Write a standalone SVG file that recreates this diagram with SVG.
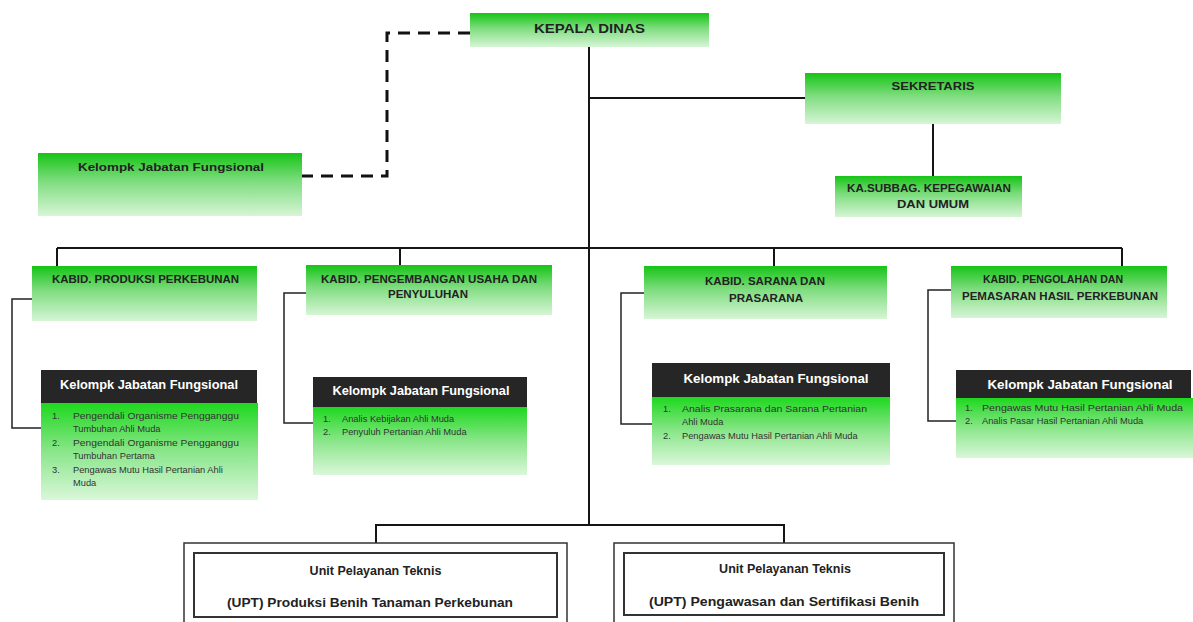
<svg xmlns="http://www.w3.org/2000/svg" width="1193" height="622" viewBox="0 0 1193 622">
<defs>
<linearGradient id="g" x1="0" y1="0" x2="0" y2="1">
<stop offset="0" stop-color="#16c416"/>
<stop offset="0.45" stop-color="#7fdd7f"/>
<stop offset="1" stop-color="#d6f5d6"/>
</linearGradient>
<linearGradient id="gb" x1="0" y1="0" x2="0" y2="1">
<stop offset="0" stop-color="#1ed81e"/>
<stop offset="0.5" stop-color="#8ae68a"/>
<stop offset="1" stop-color="#daf7da"/>
</linearGradient>
<style>
.box{fill:url(#g);}
.body{fill:url(#gb);}
.hdr{fill:#262626;}
.t{font-family:"Liberation Sans",Arial,sans-serif;font-weight:bold;fill:#222;text-anchor:middle;}
.h{font-family:"Liberation Sans",Arial,sans-serif;font-weight:bold;fill:#fff;text-anchor:middle;font-size:12.5px;}
.i{font-family:"Liberation Sans",Arial,sans-serif;fill:#333;font-size:9.3px;}
.ln{fill:none;stroke:#151515;stroke-width:2;}
.br{fill:none;stroke:#222;stroke-width:1.5;}
.ds{fill:none;stroke:#111;stroke-width:3;stroke-dasharray:12 8;}
.up{fill:#fff;stroke:#333;stroke-width:1.5;}
.upi{fill:#fff;stroke:#333;stroke-width:2;}
.u{font-family:"Liberation Sans",Arial,sans-serif;font-weight:bold;fill:#222;text-anchor:middle;font-size:12.5px;}
</style>
</defs>
<rect width="1193" height="622" fill="#fff"/>

<g id="connectors">
<path class="ln" d="M589,47 V525"/>
<path class="ln" d="M589,98 H805"/>
<path class="ln" d="M933,124 V176"/>
<path class="ln" d="M57,248 H1122"/>
<path class="ln" d="M57,248 V266 M400,248 V265 M774,248 V266 M1122,248 V266"/>
<path class="ln" d="M376,543 V525 H784 V543"/>
<path class="ds" d="M470,33 H387 V176 H302"/>
<path class="br" d="M32,299 H12 V428 H41"/>
<path class="br" d="M306,293 H284 V423 H313"/>
<path class="br" d="M644,293 H621 V424 H652"/>
<path class="br" d="M951,290 H928 V421 H956"/>
</g>

<g id="kepala">
<rect class="box" x="470" y="13" width="239" height="34"/>
<text class="t" x="589.5" y="32.5" font-size="12.5" textLength="111" lengthAdjust="spacingAndGlyphs">KEPALA DINAS</text>
</g>

<g id="fungsional-top">
<rect class="box" x="38" y="153" width="264" height="63"/>
<text class="t" x="171" y="171" font-size="11.5" textLength="186" lengthAdjust="spacingAndGlyphs">Kelompk Jabatan Fungsional</text>
</g>

<g id="sekretaris">
<rect class="box" x="805" y="73" width="256" height="51"/>
<text class="t" x="933" y="90" font-size="11" textLength="83" lengthAdjust="spacingAndGlyphs">SEKRETARIS</text>
</g>

<g id="kasubbag">
<rect class="box" x="835" y="176" width="187" height="41"/>
<text class="t" x="929" y="192" font-size="10.5" textLength="164" lengthAdjust="spacingAndGlyphs">KA.SUBBAG. KEPEGAWAIAN</text>
<text class="t" x="933" y="208" font-size="10.5" textLength="72" lengthAdjust="spacingAndGlyphs">DAN UMUM</text>
</g>

<g id="kabid-produksi">
<rect class="box" x="32" y="266" width="225" height="55"/>
<text class="t" x="145.5" y="283" font-size="10.5" textLength="187" lengthAdjust="spacingAndGlyphs">KABID. PRODUKSI PERKEBUNAN</text>
</g>

<g id="kabid-pengembangan">
<rect class="box" x="306" y="265" width="246" height="50"/>
<text class="t" x="429" y="283" font-size="10.5" textLength="216" lengthAdjust="spacingAndGlyphs">KABID. PENGEMBANGAN USAHA DAN</text>
<text class="t" x="428" y="298" font-size="10.5" textLength="80" lengthAdjust="spacingAndGlyphs">PENYULUHAN</text>
</g>

<g id="kabid-sarana">
<rect class="box" x="644" y="266" width="243" height="53"/>
<text class="t" x="765" y="285" font-size="10.5" textLength="120" lengthAdjust="spacingAndGlyphs">KABID. SARANA DAN</text>
<text class="t" x="766" y="302" font-size="10.5" textLength="74" lengthAdjust="spacingAndGlyphs">PRASARANA</text>
</g>

<g id="kabid-pengolahan">
<rect class="box" x="951" y="266" width="216" height="52"/>
<text class="t" x="1053" y="283" font-size="10.5" textLength="140" lengthAdjust="spacingAndGlyphs">KABID. PENGOLAHAN DAN</text>
<text class="t" x="1060" y="300" font-size="10.5" textLength="196" lengthAdjust="spacingAndGlyphs">PEMASARAN HASIL PERKEBUNAN</text>
</g>

<g id="fungsional-1">
<rect class="hdr" x="41" y="370" width="216" height="33"/>
<rect class="body" x="41" y="403" width="217" height="97"/>
<text class="h" x="149" y="388.5" textLength="178" lengthAdjust="spacingAndGlyphs">Kelompk Jabatan Fungsional</text>
<text class="i" x="52" y="419">1.</text><text class="i" x="73" y="419" textLength="166" lengthAdjust="spacingAndGlyphs">Pengendali Organisme Pengganggu</text>
<text class="i" x="73" y="432">Tumbuhan Ahli Muda</text>
<text class="i" x="52" y="445.5">2.</text><text class="i" x="73" y="445.5" textLength="166" lengthAdjust="spacingAndGlyphs">Pengendali Organisme Pengganggu</text>
<text class="i" x="73" y="459">Tumbuhan Pertama</text>
<text class="i" x="52" y="472.5">3.</text><text class="i" x="73" y="472.5">Pengawas Mutu Hasil Pertanian Ahli</text>
<text class="i" x="73" y="486">Muda</text>
</g>

<g id="fungsional-2">
<rect class="hdr" x="313" y="377" width="214" height="30"/>
<rect class="body" x="313" y="407" width="214" height="68"/>
<text class="h" x="421" y="394.5" textLength="177" lengthAdjust="spacingAndGlyphs">Kelompk Jabatan Fungsional</text>
<text class="i" x="323" y="422">1.</text><text class="i" x="342" y="422">Analis Kebijakan Ahli Muda</text>
<text class="i" x="323" y="435">2.</text><text class="i" x="342" y="435">Penyuluh Pertanian Ahli Muda</text>
</g>

<g id="fungsional-3">
<rect class="hdr" x="652" y="363" width="238" height="34"/>
<rect class="body" x="652" y="397" width="238" height="68"/>
<text class="h" x="776" y="382.5" textLength="185" lengthAdjust="spacingAndGlyphs">Kelompk Jabatan Fungsional</text>
<text class="i" x="663" y="412">1.</text><text class="i" x="682" y="412" textLength="185" lengthAdjust="spacingAndGlyphs">Analis Prasarana dan Sarana Pertanian</text>
<text class="i" x="682" y="425">Ahli Muda</text>
<text class="i" x="663" y="439">2.</text><text class="i" x="682" y="439">Pengawas Mutu Hasil Pertanian Ahli Muda</text>
</g>

<g id="fungsional-4">
<rect class="hdr" x="956" y="370" width="235" height="28"/>
<rect class="body" x="956" y="398" width="237" height="60"/>
<text class="h" x="1080" y="388.5" textLength="185" lengthAdjust="spacingAndGlyphs">Kelompk Jabatan Fungsional</text>
<text class="i" x="965" y="411">1.</text><text class="i" x="982" y="411" textLength="201" lengthAdjust="spacingAndGlyphs">Pengawas Mutu Hasil Pertanian Ahli Muda</text>
<text class="i" x="965" y="424">2.</text><text class="i" x="982" y="424">Analis Pasar Hasil Pertanian Ahli Muda</text>
</g>

<g id="upt-1">
<rect class="up" x="184" y="543" width="383" height="95"/>
<rect class="upi" x="194" y="553" width="363" height="64"/>
<text class="u" x="375.5" y="575">Unit Pelayanan Teknis</text>
<text class="u" x="370" y="607" textLength="286" lengthAdjust="spacingAndGlyphs">(UPT) Produksi Benih Tanaman Perkebunan</text>
</g>

<g id="upt-2">
<rect class="up" x="614" y="543" width="340" height="95"/>
<rect class="upi" x="624" y="553" width="320" height="62"/>
<text class="u" x="785" y="573">Unit Pelayanan Teknis</text>
<text class="u" x="784" y="606" textLength="270" lengthAdjust="spacingAndGlyphs">(UPT) Pengawasan dan Sertifikasi Benih</text>
</g>
</svg>
